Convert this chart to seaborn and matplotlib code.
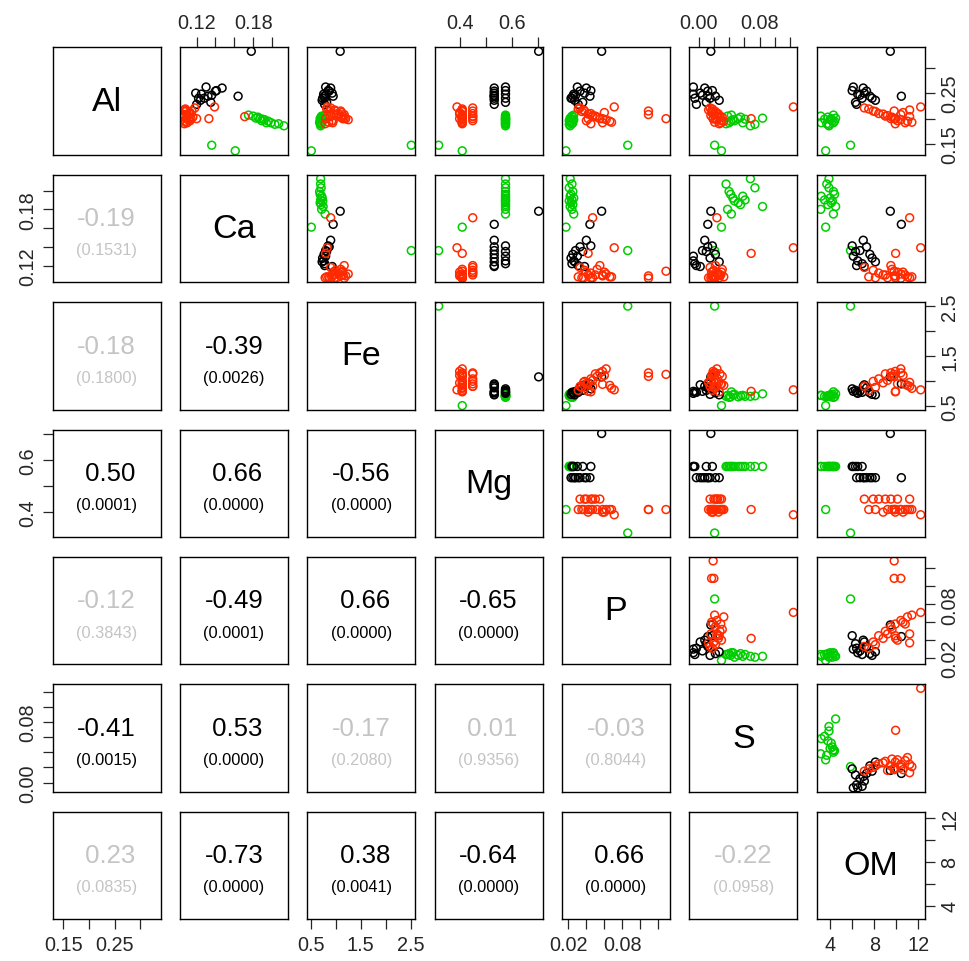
import numpy as np
import pandas as pd
import matplotlib
matplotlib.use("Agg")
import matplotlib.pyplot as plt
import seaborn as sns

sns.set_style("white")
plt.rcParams['font.family'] = ['Liberation Sans', 'DejaVu Sans']

variables = ["Al", "Ca", "Fe", "Mg", "P", "S", "OM"]

# soil samples: 16 of group "C", 15 of group "A", 25 of group "B"
group = ["C"] * 16 + ["A"] * 15 + ["B"] * 25

al = [0.186, 0.190, 0.189, 0.192, 0.195, 0.192, 0.198, 0.199, 0.196, 0.200, 0.203, 0.201, 0.205, 0.207, 0.137, 0.148,
      0.332, 0.244, 0.262, 0.248, 0.240, 0.232, 0.255, 0.260, 0.254, 0.246, 0.244, 0.240, 0.236, 0.228, 0.250,
      0.223, 0.200, 0.215, 0.208, 0.204, 0.200,
      0.221, 0.215, 0.210, 0.205, 0.200, 0.196, 0.219, 0.214, 0.209, 0.206, 0.203, 0.200, 0.198, 0.195, 0.193,
      0.190, 0.212, 0.217, 0.192]
ca = [0.2127, 0.207, 0.203, 0.199, 0.196, 0.194, 0.192, 0.190, 0.189, 0.187, 0.185, 0.183, 0.180, 0.175, 0.161, 0.136,
      0.178, 0.164, 0.130, 0.125, 0.122, 0.135, 0.141, 0.147, 0.140, 0.136, 0.132, 0.128, 0.124, 0.120, 0.119,
      0.139, 0.114, 0.109, 0.1065, 0.171, 0.133,
      0.118, 0.115, 0.112, 0.110, 0.120, 0.113, 0.108, 0.107, 0.110, 0.107, 0.116, 0.109, 0.111, 0.108, 0.108,
      0.107, 0.113, 0.107, 0.110]
fe = [0.70, 0.70, 0.71, 0.68, 0.69, 0.72, 0.73, 0.70, 0.74, 0.69, 0.71, 0.75, 0.72, 0.79, 0.514, 2.508,
      1.09, 0.95, 0.80, 0.76, 0.78, 0.82, 0.85, 0.90, 0.87, 0.80, 0.77, 0.74, 0.73, 0.78, 0.93,
      0.83, 1.14, 1.10, 1.17, 0.90, 0.80,
      0.90, 1.00, 1.05, 1.15, 1.17, 0.95, 0.82, 0.88, 0.97, 1.02, 1.10, 1.20, 1.25, 0.92, 0.86,
      0.79, 1.12, 0.98, 0.94]
mg = [0.575] * 14 + [0.41, 0.32] + \
     [0.7014, 0.532, 0.575, 0.575, 0.575, 0.575, 0.575, 0.532, 0.532, 0.532, 0.532, 0.532, 0.532, 0.532, 0.532] + \
     [0.39, 0.41, 0.41, 0.41, 0.45, 0.41] + \
     [0.45, 0.45, 0.45, 0.45, 0.45, 0.45, 0.41, 0.41, 0.40, 0.41, 0.41, 0.40, 0.41, 0.41, 0.41,
      0.41, 0.40, 0.41, 0.41]
p = [0.022, 0.024, 0.021, 0.025, 0.023, 0.022, 0.026, 0.024, 0.021, 0.023, 0.025, 0.022, 0.024, 0.026, 0.0174, 0.086,
     0.057, 0.044, 0.030, 0.026, 0.024, 0.036, 0.045, 0.040, 0.033, 0.028, 0.025, 0.023, 0.027, 0.031, 0.038,
     0.071, 0.1285, 0.109, 0.109, 0.047, 0.042,
     0.033, 0.038, 0.045, 0.050, 0.055, 0.040, 0.031, 0.035, 0.042, 0.047, 0.052, 0.058, 0.062, 0.066, 0.068,
     0.045, 0.060, 0.037, 0.058]
s = [0.068, 0.036, 0.074, 0.040, 0.042, 0.058, 0.045, 0.061, 0.047, 0.052, 0.055, 0.084, 0.038, 0.043, 0.030, 0.021,
     0.016, 0.012, -0.007, -0.007, -0.005, 0.010, 0.018, 0.008, 0.012, 0.005, 0.022, 0.015, 0.027, -0.003, 0.002,
     0.1245, 0.019, 0.017, 0.020, 0.024, 0.069,
     0.015, 0.020, 0.025, 0.028, 0.022, 0.030, 0.018, 0.022, 0.026, 0.016, 0.031, 0.019, 0.024, 0.033, 0.021,
     0.027, 0.017, 0.013, 0.029]
om = [3.9, 3.7, 3.9, 4.3, 4.4, 3.2, 4.0, 3.5, 4.2, 4.1, 3.8, 4.5, 3.15, 4.3, 3.6, 5.85,
      9.45, 10.45, 6.1, 6.5, 6.9, 6.3, 6.0, 7.0, 7.3, 6.7, 7.6, 7.8, 8.1, 6.4, 7.1,
      12.2, 9.8, 9.8, 10.4, 11.2, 9.93,
      7.1, 7.9, 8.4, 9.0, 9.5, 10.1, 7.5, 8.1, 8.8, 9.2, 9.6, 9.9, 10.4, 11.0, 11.4,
      9.9, 10.6, 11.2, 10.8]

# correlation (r, p-value) for the lower triangle, keyed by (row, col)
corr_pairs = [(1, 0), (2, 0), (2, 1), (3, 0), (3, 1), (3, 2), (4, 0), (4, 1), (4, 2), (4, 3),
              (5, 0), (5, 1), (5, 2), (5, 3), (5, 4), (6, 0), (6, 1), (6, 2), (6, 3), (6, 4), (6, 5)]
corr_r = [-0.19, -0.18, -0.39, 0.50, 0.66, -0.56, -0.12, -0.49, 0.66, -0.65,
          -0.41, 0.53, -0.17, 0.01, -0.03, 0.23, -0.73, 0.38, -0.64, 0.66, -0.22]
corr_p = [0.1531, 0.1800, 0.0026, 0.0001, 0.0000, 0.0000, 0.3843, 0.0001, 0.0000, 0.0000,
          0.0015, 0.0000, 0.2080, 0.9356, 0.8044, 0.0835, 0.0000, 0.0041, 0.0000, 0.0000, 0.0958]

# axis ticks and which of them carry a label
tick_values = {
    "Al": [0.15, 0.20, 0.25, 0.30],
    "Ca": [0.12, 0.14, 0.16, 0.18, 0.20],
    "Fe": [0.5, 1.0, 1.5, 2.0, 2.5],
    "Mg": [0.4, 0.5, 0.6, 0.7],
    "P": [0.02, 0.04, 0.06, 0.08, 0.10, 0.12],
    "S": [0.00, 0.02, 0.04, 0.06, 0.08, 0.10, 0.12],
    "OM": [4, 6, 8, 10, 12],
}
tick_labels = {
    "Al": ["0.15", "", "0.25", ""],
    "Ca": ["0.12", "", "", "0.18", ""],
    "Fe": ["0.5", "", "1.5", "", "2.5"],
    "Mg": ["0.4", "", "0.6", ""],
    "P": ["0.02", "", "", "0.08", "", ""],
    "S": ["0.00", "", "", "", "0.08", "", ""],
    "OM": ["4", "", "8", "", "12"],
}

df = pd.DataFrame({"group": group, "Al": al, "Ca": ca, "Fe": fe, "Mg": mg,
                   "P": p, "S": s, "OM": om})
palette = {"A": "#000000", "B": "#FF2A00", "C": "#00CD00"}

limits = {}
for v in variables:
    lo, hi = df[v].min(), df[v].max()
    pad = 0.04 * (hi - lo)
    limits[v] = (lo - pad, hi + pad)

W, H = 970, 962
fig = plt.figure(figsize=(W / 100, H / 100), dpi=100)

n = len(variables)
x0, dx, pw = 52.6, 127.35, 108.0
y0, dy, ph = 48.3, 127.4, 107.5
tick_fs = 14.3
gray = "#C4C4C4"

corr_lookup = {pair: (r, pv) for pair, r, pv in zip(corr_pairs, corr_r, corr_p)}

for i, yv in enumerate(variables):
    for j, xv in enumerate(variables):
        left = (x0 + j * dx) / W
        bottom = (H - (y0 + i * dy) - ph) / H
        ax = fig.add_axes([left, bottom, pw / W, ph / H])
        ax.set_xlim(*limits[xv])
        ax.set_ylim(*limits[yv])
        for sp in ax.spines.values():
            sp.set_visible(True)
            sp.set_color("black")
            sp.set_linewidth(1.0)
        ax.set_xticks([])
        ax.set_yticks([])

        if i == j:
            ax.text(0.5, 0.5, xv, transform=ax.transAxes, ha="center", va="center",
                    fontsize=24.5, color="black")
        elif j > i:
            sns.scatterplot(data=df, x=xv, y=yv, hue="group", palette=palette, ax=ax,
                            legend=False, s=32, linewidth=1.1, marker="o")
            coll = ax.collections[-1]
            coll.set_edgecolors(coll.get_facecolors())
            coll.set_facecolors("none")
        else:
            r, pv = corr_lookup[(i, j)]
            col = "black" if pv <= 0.05 else gray
            rtxt = f"{r:.2f}" if r < 0 else f" {r:.2f}"
            ax.text(0.5, 0.595, rtxt, transform=ax.transAxes, ha="center", va="center",
                    fontsize=18.5, color=col)
            ax.text(0.5, 0.30, f"({pv:.4f})", transform=ax.transAxes, ha="center", va="center",
                    fontsize=11.8, color=col)
        ax.set_xlabel("")
        ax.set_ylabel("")

        # outer axes alternate between sides
        if i == 0 and j % 2 == 1:
            ax.set_xticks(tick_values[xv])
            ax.set_xticklabels(tick_labels[xv])
            ax.tick_params(axis="x", top=True, bottom=False, labeltop=True, labelbottom=False,
                           direction="out", length=7.2, width=0.9, pad=4, labelsize=tick_fs)
        if i == n - 1 and j % 2 == 0:
            ax.set_xticks(tick_values[xv])
            ax.set_xticklabels(tick_labels[xv])
            ax.tick_params(axis="x", top=False, bottom=True, labeltop=False, labelbottom=True,
                           direction="out", length=7.2, width=0.9, pad=4, labelsize=tick_fs)
        if j == 0 and i % 2 == 1:
            ax.set_yticks(tick_values[yv])
            ax.set_yticklabels(tick_labels[yv], rotation=90, va="center")
            ax.tick_params(axis="y", left=True, right=False, labelleft=True, labelright=False,
                           direction="out", length=7.2, width=0.9, pad=4, labelsize=tick_fs)
        if j == n - 1 and i % 2 == 0:
            ax.set_yticks(tick_values[yv])
            ax.set_yticklabels(tick_labels[yv], rotation=90, va="center")
            ax.tick_params(axis="y", left=False, right=True, labelleft=False, labelright=True,
                           direction="out", length=7.2, width=0.9, pad=4, labelsize=tick_fs)
        ax.set_xlim(*limits[xv])
        ax.set_ylim(*limits[yv])

fig.savefig("out.png", dpi=100)
